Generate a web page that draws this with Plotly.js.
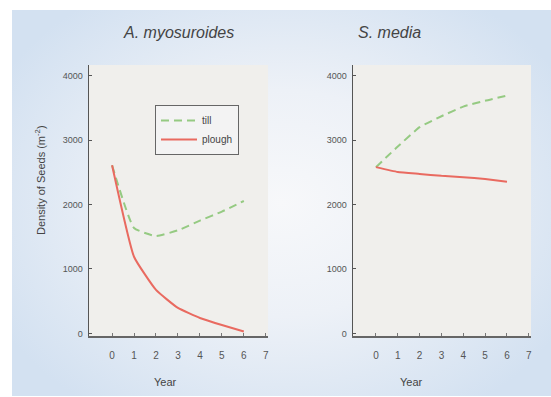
<!DOCTYPE html>
<html>
<head>
<meta charset="utf-8">
<script src="https://cdn.plot.ly/plotly-3.0.1.min.js"></script>
<style>
  html, body { margin:0; padding:0; background:#ffffff; }
  #wrap { position:absolute; left:0; top:0; width:551px; height:397px; background:#ffffff; }
  #bg { position:absolute; left:12px; top:10px; width:539px; height:386px;
        background: radial-gradient(ellipse 60% 65% at 50% 50%, #f7f8fa 0%, #edf1f7 45%, #d3e1f1 100%); }
  #chart { position:absolute; left:0; top:0; width:551px; height:397px; }
</style>
</head>
<body>
<div id="wrap"><div id="bg"></div><div id="chart"></div></div>
<script>
// ---- data ----
const years = [0, 1, 2, 3, 4, 5, 6];
const amyoTill = [2610, 1635, 1510, 1600, 1750, 1890, 2055];
const amyoPlough = [2610, 1190, 675, 395, 240, 130, 30];
const smediaTill = [2580, 2900, 3200, 3370, 3520, 3610, 3690];
const smediaPlough = [2580, 2505, 2475, 2445, 2425, 2395, 2355];
const seriesNames = ['till', 'plough'];
const panelTitles = ['A. myosuroides', 'S. media'];
const xTicks = [0, 1, 2, 3, 4, 5, 6, 7];
const yTicks = [0, 1000, 2000, 3000, 4000];

const W = 551, H = 397;
const px = v => v / W, py = v => 1 - v / H;

const tillLine = {color:'#95ca82', width:2, dash:'8px,5px', shape:'spline', smoothing:0.4};
const ploughLine = {color:'#e96a60', width:2, shape:'spline', smoothing:0.4};

const traces = [
  {x: years, y: amyoTill, mode:'lines', name: seriesNames[0], line: tillLine, xaxis:'x', yaxis:'y'},
  {x: years, y: amyoPlough, mode:'lines', name: seriesNames[1], line: ploughLine, xaxis:'x', yaxis:'y'},
  {x: years, y: smediaTill, mode:'lines', name: seriesNames[0], line: tillLine, xaxis:'x2', yaxis:'y2', showlegend:false},
  {x: years, y: smediaPlough, mode:'lines', name: seriesNames[1], line: ploughLine, xaxis:'x2', yaxis:'y2', showlegend:false}
];

const FAM = 'Liberation Sans, Arial, sans-serif';
const xTickFont = {family: FAM, size:10, color:'#555'};
const yTickFont = {family: FAM, size:9, color:'#555'};
function xa(domain, anchor) {
  return {domain: domain, anchor: anchor, range:[-1.05, 7.1], tickvals: xTicks, ticktext: xTicks.map(String),
    showline:true, linecolor:'#666', linewidth:1.5, ticks:'inside', ticklen:3, tickcolor:'#777',
    showgrid:false, zeroline:false, tickfont: xTickFont, ticklabelstandoff: 9, fixedrange:true};
}
function ya(domain, anchor) {
  return {domain: domain, anchor: anchor, range:[-40, 4165], tickvals: yTicks, ticktext: yTicks.map(String),
    showline:true, linecolor:'#555', linewidth:1.5, ticks:'inside', ticklen:3, tickcolor:'#555',
    showgrid:false, zeroline:false, tickfont: yTickFont, ticklabelstandoff: 3, fixedrange:true};
}
const yDom = [py(336), py(65)];

function ann(text, x, y, size, extra) {
  return Object.assign({text: text, x: px(x), y: py(y), xref:'paper', yref:'paper', showarrow:false,
    xanchor:'center', yanchor:'middle', font:{family: FAM, size: size, color:'#444'}}, extra || {});
}

const layout = {
  width: W, height: H,
  margin: {l:0, r:0, t:0, b:0},
  paper_bgcolor: 'rgba(0,0,0,0)',
  plot_bgcolor: '#f0efec',
  showlegend: true,
  xaxis: xa([px(89), px(268)], 'y'),
  yaxis: ya(yDom, 'x'),
  xaxis2: xa([px(353), px(531)], 'y2'),
  yaxis2: ya(yDom, 'x2'),
  legend: {x: px(155), y: py(105), xanchor:'left', yanchor:'top',
    bgcolor:'#f3f3f3', bordercolor:'#666', borderwidth:1,
    font:{family: FAM, size:10, color:'#444'},
    tracegroupgap:0, itemwidth:36},
  annotations: [
    ann('<i>' + panelTitles[0] + '</i>', 178, 33, 16),
    ann('<i>' + panelTitles[1] + '</i>', 389, 33, 16),
    ann('Year', 165, 382, 11),
    ann('Year', 411, 382, 11),
    ann('Density of Seeds (m<sup>-2</sup>)', 40, 180, 11, {textangle:-90})
  ]
};

Plotly.newPlot('chart', traces, layout, {displayModeBar:false, staticPlot:true});
</script>
</body>
</html>
